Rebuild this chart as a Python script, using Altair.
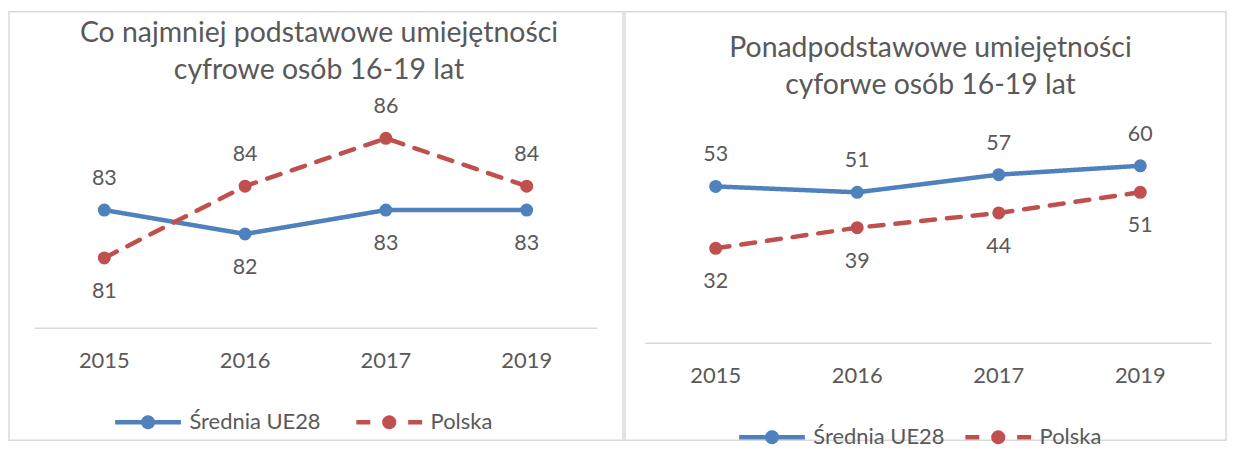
import altair as alt
import pandas as pd

# ---------------- data ----------------
years = ["2015", "2016", "2017", "2019"]
series_names = ["Średnia UE28", "Polska"]
basic_eu = [83, 82, 83, 83]
basic_pl = [81, 84, 86, 84]
adv_eu = [53, 51, 57, 60]
adv_pl = [32, 39, 44, 51]
title_basic = ["Co najmniej podstawowe umiejętności", "cyfrowe osób 16-19 lat"]
title_adv = ["Ponadpodstawowe umiejętności", "cyforwe osób 16-19 lat"]

# ---------------- styles ----------------
BLUE = "#4F81BD"
RED = "#C0504D"
TEXT = "#595959"
GRID = "#D9D9D9"
FONT = "Lato"
H = 430
# legend glyph: a horizontal line plus a marker built from short arcs
# (each arc shorter than one dash, so the marker stays solid when dashed)
SYMBOL = (
    "M-1,0H1"
    "M0.144,0A0.144,0.144,0,0,1,-0.072,0.1247"
    "M-0.072,0.1247A0.144,0.144,0,0,1,-0.072,-0.1247"
    "M-0.072,-0.1247A0.144,0.144,0,0,1,0.144,0"
    "M-0.015,0A0.015,0.015,0,1,0,0.015,0A0.015,0.015,0,1,0,-0.015,0"
)


def frame(eu, pl):
    rows = []
    for s, vals in zip(series_names, [eu, pl]):
        for y, v in zip(years, vals):
            rows.append({"series": s, "year": y, "value": v})
    return pd.DataFrame(rows)


def panel(df, title, xrange, ydomain, yrange, axis_y, width, title_offset,
          title_dx, legend_x, legend_y, col_pad):
    leg = alt.Legend(
        title=None, orient="none", direction="horizontal",
        legendX=legend_x, legendY=legend_y,
        symbolType=SYMBOL, symbolSize=4356, symbolStrokeWidth=4.5,
        symbolOpacity=1, symbolFillColor="transparent",
        labelFont=FONT, labelFontSize=22, labelColor=TEXT,
        labelOffset=6, columnPadding=col_pad, labelLimit=400,
    )
    x = alt.X(
        "year:N", sort=years,
        scale=alt.Scale(type="band", range=xrange, paddingInner=0, paddingOuter=0),
        axis=alt.Axis(
            title=None, orient="bottom", offset=axis_y - H,
            domainColor=GRID, domainWidth=1.5, ticks=False, tickSize=0,
            grid=False, labelAngle=0, labelPadding=33, labelBaseline="middle",
            labelFont=FONT, labelFontSize=22, labelColor=TEXT,
        ),
    )
    y = alt.Y("value:Q", scale=alt.Scale(domain=ydomain, range=yrange), axis=None)
    cscale = alt.Scale(domain=series_names, range=[BLUE, RED])
    stroke = alt.Stroke("series:N", sort=series_names, legend=leg, scale=cscale)
    dash = alt.StrokeDash(
        "series:N", sort=series_names, legend=leg,
        scale=alt.Scale(domain=series_names, range=[[1, 0], [14, 12]]),
    )
    fill = alt.Fill("series:N", sort=series_names, legend=None, scale=cscale)
    base = alt.Chart(df)
    line = base.mark_line(strokeWidth=4.5, strokeCap="round", strokeJoin="round").encode(
        x=x, y=y, stroke=stroke, strokeDash=dash, detail="series:N"
    )
    pts = base.mark_circle(size=170, opacity=1).encode(x=x, y=y, fill=fill)
    lab = base.transform_joinaggregate(
        top="max(value)", groupby=["year"]
    ).transform_calculate(above="datum.value >= datum.top")
    txt = dict(font=FONT, fontSize=21.5, color=TEXT, baseline="middle", align="center")
    up = lab.transform_filter("datum.above").mark_text(dy=-31, **txt).encode(
        x=x, y=y, text="value:Q"
    )
    dn = lab.transform_filter("!datum.above").mark_text(dy=34, **txt).encode(
        x=x, y=y, text="value:Q"
    )
    return alt.layer(line, pts, up, dn).properties(
        width=width, height=H,
        title=alt.TitleParams(
            text=title, anchor="middle", frame="group", orient="top",
            offset=title_offset, dx=title_dx, baseline="top",
            font=FONT, fontSize=28.5, fontWeight="normal", color=TEXT, lineHeight=37,
        ),
    )


left = panel(frame(basic_eu, basic_pl), title_basic, [25, 590], [78, 87], [319, 103],
             317, 616, -73, 3, 104, 376, 26)
right = panel(frame(adv_eu, adv_pl), title_adv, [20, 588], [0, 70], [332, 125],
              332, 603, -88, 5, 112, 391, 11)

chart = alt.hconcat(left, right, spacing=0).resolve_scale(
    stroke="independent", fill="independent", strokeDash="independent"
).resolve_legend(
    stroke="independent", fill="independent", strokeDash="independent"
).configure_view(stroke=GRID, strokeWidth=1.5).properties(
    padding={"left": 0, "top": 2, "right": 0, "bottom": 0},
    background="white",
)

chart.save("out.html", embed_options={"renderer": "svg", "actions": False})
